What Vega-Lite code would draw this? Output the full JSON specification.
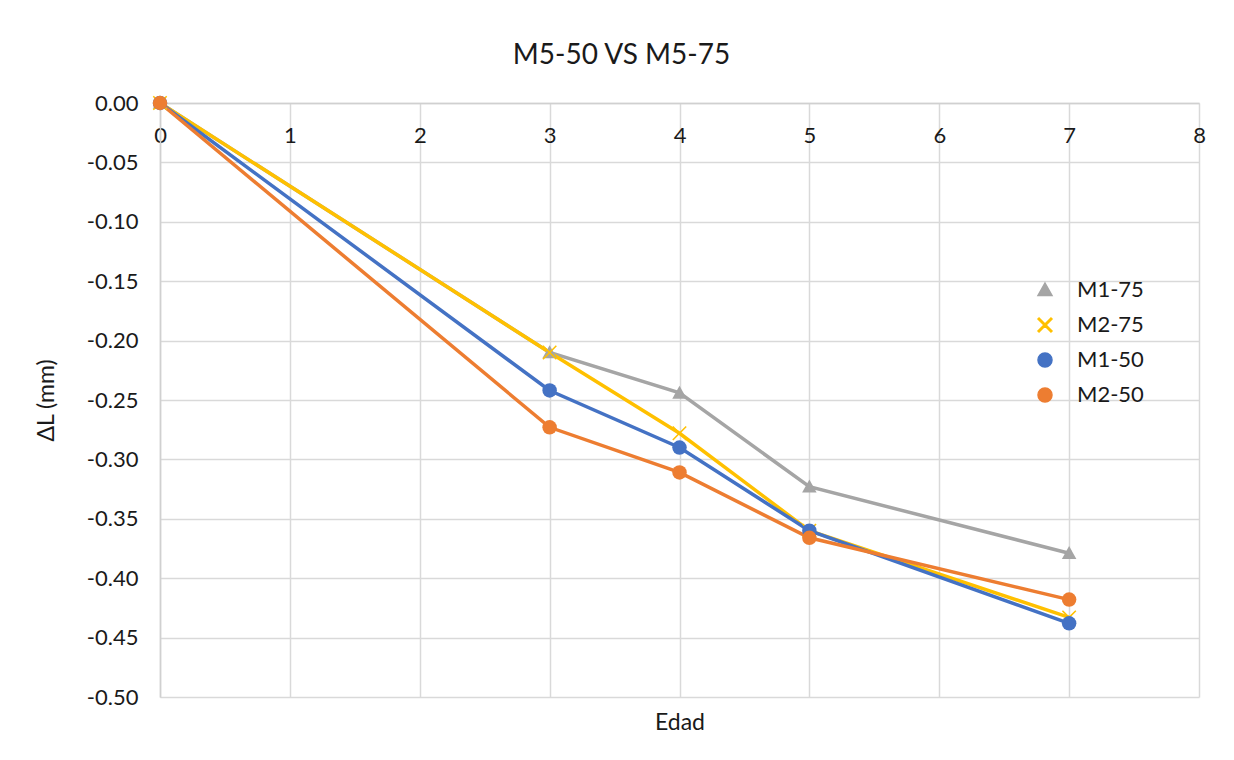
{
  "$schema": "https://vega.github.io/schema/vega-lite/v6.json",
  "width": 1039,
  "height": 594,
  "autosize": {"type": "none"},
  "padding": {"left": 160, "top": 103, "right": 35, "bottom": 63},
  "background": "white",
  "title": {
    "text": "M5-50 VS M5-75",
    "font": "Lato",
    "fontSize": 28,
    "fontWeight": "normal",
    "color": "#1a1a1a",
    "anchor": "middle",
    "dx": -58,
    "offset": 22
  },
  "config": {
    "view": {"stroke": null},
    "font": "Lato",
    "axis": {
      "labelFont": "Lato",
      "labelFontSize": 22,
      "labelColor": "#1a1a1a",
      "labelFlush": false,
      "titleFont": "Lato",
      "titleFontSize": 23,
      "titleFontWeight": "normal",
      "titleColor": "#1a1a1a",
      "gridColor": "#d9d9d9",
      "gridWidth": 1.5,
      "domainColor": "#d0d0d0",
      "domainWidth": 1.5,
      "ticks": false
    },
    "legend": {
      "labelFont": "Lato",
      "labelFontSize": 22,
      "labelColor": "#1a1a1a"
    }
  },
  "data": {
    "values": [
      {"Edad": 0, "dL": 0, "Serie": "M1-75"},
      {"Edad": 3, "dL": -0.210, "Serie": "M1-75"},
      {"Edad": 4, "dL": -0.244, "Serie": "M1-75"},
      {"Edad": 5, "dL": -0.323, "Serie": "M1-75"},
      {"Edad": 7, "dL": -0.379, "Serie": "M1-75"},
      {"Edad": 0, "dL": 0, "Serie": "M2-75"},
      {"Edad": 3, "dL": -0.210, "Serie": "M2-75"},
      {"Edad": 4, "dL": -0.278, "Serie": "M2-75"},
      {"Edad": 5, "dL": -0.360, "Serie": "M2-75"},
      {"Edad": 7, "dL": -0.433, "Serie": "M2-75"},
      {"Edad": 0, "dL": 0, "Serie": "M1-50"},
      {"Edad": 3, "dL": -0.242, "Serie": "M1-50"},
      {"Edad": 4, "dL": -0.290, "Serie": "M1-50"},
      {"Edad": 5, "dL": -0.360, "Serie": "M1-50"},
      {"Edad": 7, "dL": -0.438, "Serie": "M1-50"},
      {"Edad": 0, "dL": 0, "Serie": "M2-50"},
      {"Edad": 3, "dL": -0.273, "Serie": "M2-50"},
      {"Edad": 4, "dL": -0.311, "Serie": "M2-50"},
      {"Edad": 5, "dL": -0.366, "Serie": "M2-50"},
      {"Edad": 7, "dL": -0.418, "Serie": "M2-50"}
    ]
  },
  "resolve": {"axis": {"x": "independent"}},
  "layer": [
    {
      "mark": {"type": "line", "strokeWidth": 3.5},
      "encoding": {
        "x": {
          "field": "Edad", "type": "quantitative",
          "scale": {"domain": [0, 8], "nice": false, "zero": false},
          "axis": {"orient": "bottom", "title": "Edad", "labels": false, "domain": false, "grid": true, "tickCount": 8, "titlePadding": 14}
        },
        "y": {
          "field": "dL", "type": "quantitative",
          "scale": {"domain": [-0.5, 0], "nice": false},
          "axis": {"title": "ΔL (mm)", "labelExpr": "replace(format(datum.value, '.2f'), '−', '-')", "values": [0, -0.05, -0.1, -0.15, -0.2, -0.25, -0.3, -0.35, -0.4, -0.45, -0.5], "labelPadding": 22, "titlePadding": 28, "grid": true}
        },
        "color": {
          "field": "Serie", "type": "nominal",
          "scale": {"domain": ["M1-75", "M2-75", "M1-50", "M2-50"], "range": ["#A5A5A5", "#FFC000", "#4472C4", "#ED7D31"]}
        }
      }
    },
    {
      "mark": {"type": "point", "filled": true, "size": 210, "opacity": 1},
      "encoding": {
        "x": {
          "field": "Edad", "type": "quantitative",
          "scale": {"domain": [0, 8], "nice": false, "zero": false},
          "axis": {"orient": "top", "title": null, "labels": true, "grid": false, "domain": true, "tickCount": 8, "labelPadding": -44}
        },
        "y": {"field": "dL", "type": "quantitative"},
        "color": {
          "field": "Serie", "type": "nominal",
          "scale": {"domain": ["M1-75", "M2-75", "M1-50", "M2-50"], "range": ["#A5A5A5", "#FFC000", "#4472C4", "#ED7D31"]},
          "legend": {
            "title": null, "orient": "none", "legendX": 874, "legendY": 176,
            "symbolSize": 196, "labelOffset": 21, "rowPadding": 13,
            "encode": {"symbols": {
              "shape": {"value": {"expr": "datum.value === 'M1-75' ? 'M-3.7,-0.22L3.7,-0.22L3.7,0.22L-3.7,0.22Z M0,-1.1L1.1,0.85L-1.1,0.85Z' : datum.value === 'M2-75' ? 'M-3.7,-0.22L3.7,-0.22L3.7,0.22L-3.7,0.22Z M-1,-0.9L-0.9,-1L0,-0.1L0.9,-1L1,-0.9L0.1,0L1,0.9L0.9,1L0,0.1L-0.9,1L-1,0.9L-0.1,0Z' : 'M-3.7,-0.22L3.7,-0.22L3.7,0.22L-3.7,0.22Z M-1,0A1,1,0,1,1,1,0A1,1,0,1,1,-1,0Z'"}},
              "fill": {"value": {"expr": "scale('color', datum.value)"}}
            }}
          }
        },
        "shape": {
          "field": "Serie", "type": "nominal",
          "scale": {"domain": ["M1-75", "M2-75", "M1-50", "M2-50"], "range": ["M0,-1L1,0.8L-1,0.8Z", "M-1,-0.85L-0.85,-1L0,-0.15L0.85,-1L1,-0.85L0.15,0L1,0.85L0.85,1L0,0.15L-0.85,1L-1,0.85L-0.15,0Z", "circle", "circle"]},
          "legend": null
        }
      }
    }
  ]
}
